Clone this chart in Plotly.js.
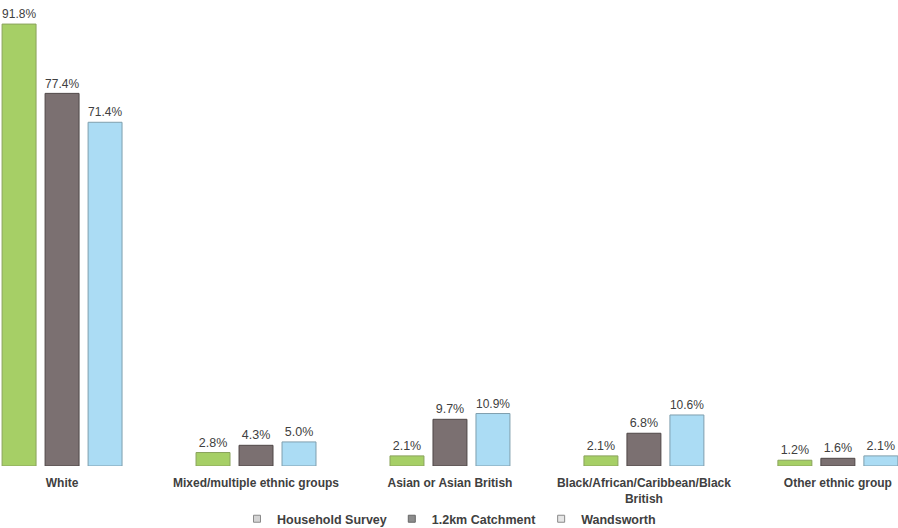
<!DOCTYPE html>
<html><head><meta charset="utf-8">
<script src="https://cdn.plot.ly/plotly-3.0.1.min.js"></script>
<style>html,body{margin:0;padding:0;background:#fff;}#chart{width:898px;height:528px;}</style>
</head><body><div id="chart"></div>
<script>
const categories = ["White", "Mixed/multiple ethnic groups", "Asian or Asian British", "Black/African/Caribbean/Black<br>British", "Other ethnic group"];
const householdSurvey = [91.8, 2.8, 2.1, 2.1, 1.2];
const catchment = [77.4, 4.3, 9.7, 6.8, 1.6];
const wandsworth = [71.4, 5.0, 10.9, 10.6, 2.1];
const seriesNames = ["Household Survey", "1.2km Catchment", "Wandsworth"];

const fmt = v => v.map(x => x.toFixed(1) + "%");
function barTrace(vals, color, line) {
  return {type: "bar", x: categories, y: vals, text: fmt(vals), textposition: "outside",
    cliponaxis: false, showlegend: false,
    textfont: {family: "Liberation Sans, Arial, sans-serif", size: 12.5, color: "#404040"},
    marker: {color: color, line: {color: line, width: 1}}, hoverinfo: "skip"};
}
function legendTrace(name, color, line) {
  return {type: "scatter", mode: "markers", x: [null], y: [null], name: name,
    marker: {symbol: "square", size: 7, color: color, line: {color: line, width: 1}}};
}
const data = [
  barTrace(householdSurvey, "#a6cf66", "#8aa35c"),
  barTrace(catchment, "#7b7071", "#4f4747"),
  barTrace(wandsworth, "#abdcf4", "#7f9fae"),
  legendTrace(seriesNames[0], "#d4d4d4", "#8a8a8a"),
  legendTrace(seriesNames[1], "#8c8c8c", "#666"),
  legendTrace(seriesNames[2], "#e6e6e6", "#8a8a8a")
];
const layout = {
  width: 898, height: 528,
  margin: {l: 0, r: 0, t: 0, b: 62, autoexpand: false},
  paper_bgcolor: "#fff", plot_bgcolor: "#fff",
  barmode: "group", bargap: 0.335, bargroupgap: 0.21,
  font: {family: "Liberation Sans, Arial, sans-serif", color: "#404040", size: 12},
  xaxis: {type: "category", range: [-0.32, 4.31], showline: false, showgrid: false, zeroline: false,
    automargin: false, ticks: "", ticklabelstandoff: 8,
    tickfont: {family: "Liberation Sans, Arial, sans-serif", size: 12, color: "#404040", weight: "bold"}},
  yaxis: {range: [0, 96.8], visible: false, showgrid: false, zeroline: false, automargin: false},
  showlegend: true,
  legend: {orientation: "h", x: 0.5, xanchor: "center", y: -0.114, yanchor: "middle",
    font: {family: "Liberation Sans, Arial, sans-serif", size: 12.5, color: "#404040", weight: "bold"},
    itemwidth: 30, tracegroupgap: 0}
};
Plotly.newPlot("chart", data, layout, {displayModeBar: false, staticPlot: true});
</script></body></html>
